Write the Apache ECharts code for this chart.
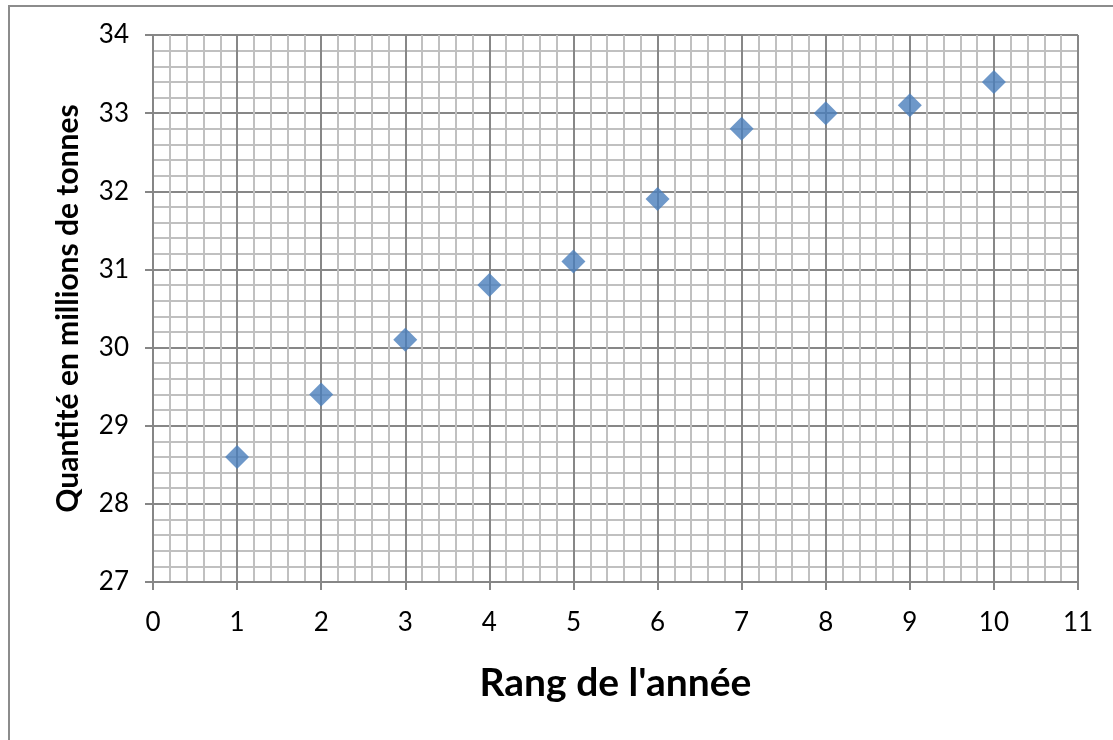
<!DOCTYPE html>
<html>
<head>
<meta charset="utf-8">
<script src="https://cdn.jsdelivr.net/npm/echarts@6/dist/echarts.min.js"></script>
<style>
html,body{margin:0;padding:0;background:#fff;}
#chart{width:1113px;height:740px;}
</style>
</head>
<body>
<div id="chart"></div>
<script>
var xValues = [1, 2, 3, 4, 5, 6, 7, 8, 9, 10];
var yValues = [28.6, 29.4, 30.1, 30.8, 31.1, 31.9, 32.8, 33.0, 33.1, 33.4];
var xTitle = "Rang de l'année";
var yTitle = "Quantité en millions de tonnes";

var points = xValues.map(function (x, i) { return [x, yValues[i]]; });
var font = "Lato, 'Open Sans', sans-serif";

var chart = echarts.init(document.getElementById('chart'));
chart.setOption({
  animation: false,
  backgroundColor: '#ffffff',
  graphic: [{
    type: 'rect',
    shape: { x: 9, y: 6, width: 1200, height: 800 },
    style: { fill: 'none', stroke: '#8c8c8c', lineWidth: 2 },
    silent: true
  }],
  grid: { left: 153, top: 35, right: 35, bottom: 158 },
  xAxis: {
    type: 'value', min: 0, max: 11, interval: 1,
    name: xTitle, nameLocation: 'middle', nameGap: 82,
    nameTextStyle: { fontFamily: font, fontSize: 39, fontWeight: 'bold', color: '#000' },
    axisLine: { show: true, lineStyle: { color: '#868686', width: 2 } },
    axisTick: { show: true, length: 8, lineStyle: { color: '#868686', width: 2 } },
    axisLabel: { margin: 28, fontFamily: font, fontSize: 26, color: '#000' },
    splitLine: { show: true, lineStyle: { color: '#878787', width: 2 } },
    minorTick: { show: false, splitNumber: 5 },
    minorSplitLine: { show: true, lineStyle: { color: '#c0c0c0', width: 2 } }
  },
  yAxis: {
    type: 'value', min: 27, max: 34, interval: 1,
    name: yTitle, nameLocation: 'middle', nameGap: 70, nameRotate: 90,
    nameTextStyle: { fontFamily: font, fontSize: 30, fontWeight: 'bold', color: '#000' },
    axisLine: { show: true, lineStyle: { color: '#868686', width: 2 } },
    axisTick: { show: true, length: 8, lineStyle: { color: '#868686', width: 2 } },
    axisLabel: { margin: 24, fontFamily: font, fontSize: 26, color: '#000' },
    splitLine: { show: true, lineStyle: { color: '#878787', width: 2 } },
    minorTick: { show: false, splitNumber: 5 },
    minorSplitLine: { show: true, lineStyle: { color: '#c0c0c0', width: 2 } }
  },
  series: [{
    type: 'scatter',
    data: points,
    symbol: 'diamond',
    symbolSize: [24, 24],
    itemStyle: { color: '#4a7ebb' },
    z: 10
  }]
});
</script>
</body>
</html>
